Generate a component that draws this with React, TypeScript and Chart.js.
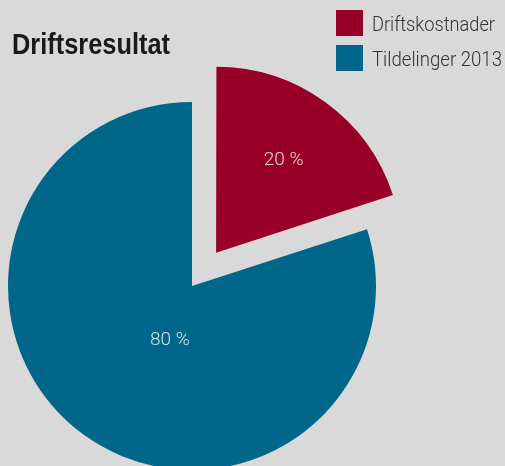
import { useEffect, useRef } from 'react';
import { Chart, registerables } from 'chart.js';

Chart.register(...registerables);

const categories = ['Driftskostnader', 'Tildelinger 2013'];
const values = [20, 80];
const valueSuffix = ' %';
const sliceColors = ['#990029', '#00668a'];
const sliceOffsets = [164, 0];
const chartTitle = 'Driftsresultat';

// label placement: fraction of radius from slice apex, and angular shift (deg)
const labelRadius = [0.625, 0.32];
const labelShift = [0, -14];
const legendTextWidths = [123, 130];

const overlayPlugin = {
  id: 'overlay',
  afterDatasetsDraw(chart: any) {
    const ctx = chart.ctx as CanvasRenderingContext2D;
    const meta = chart.getDatasetMeta(0);
    ctx.save();
    ctx.font = '300 19px Roboto, "Open Sans", sans-serif';
    ctx.fillStyle = 'rgba(255,255,255,0.82)';
    ctx.textAlign = 'center';
    ctx.textBaseline = 'middle';
    meta.data.forEach((arc: any, i: number) => {
      const { x, y, startAngle, endAngle, outerRadius } = arc.getProps(['x', 'y', 'startAngle', 'endAngle', 'outerRadius'], true);
      const mid = (startAngle + endAngle) / 2;
      const off = (arc.options.offset || 0) / 4;
      const ax = x + Math.cos(mid) * off;
      const ay = y + Math.sin(mid) * off;
      const a = mid + (labelShift[i] * Math.PI) / 180;
      const r = outerRadius * labelRadius[i];
      ctx.fillText(values[i] + valueSuffix, ax + Math.cos(a) * r, ay + Math.sin(a) * r, 45);
    });
    ctx.restore();
  },
  afterDraw(chart: any) {
    const ctx = chart.ctx as CanvasRenderingContext2D;
    ctx.save();
    // title
    ctx.font = 'bold 30px "Liberation Sans", Arial, sans-serif';
    ctx.fillStyle = '#1a1a1a';
    ctx.textAlign = 'left';
    ctx.textBaseline = 'alphabetic';
    ctx.fillText(chartTitle, 12, 54, 158);
    // legend
    ctx.font = '300 21px Roboto, "Open Sans", sans-serif';
    categories.forEach((label, i) => {
      const top = 10 + i * 35;
      ctx.fillStyle = sliceColors[i];
      ctx.fillRect(336, top, 27, 26);
      ctx.fillStyle = '#333333';
      ctx.fillText(label, 372, top + 21, legendTextWidths[i]);
    });
    ctx.restore();
  },
};

export default function App() {
  const ref = useRef<HTMLCanvasElement | null>(null);
  useEffect(() => {
    if (!ref.current) return;
    const chart = new Chart(ref.current, {
      type: 'pie',
      data: {
        labels: categories,
        datasets: [
          {
            data: values,
            backgroundColor: sliceColors,
            borderWidth: 0,
            offset: sliceOffsets,
            radius: 184,
            clip: false,
          } as any,
        ],
      },
      options: {
        responsive: false,
        animation: false,
        rotation: 0,
        layout: { padding: { left: 0, right: 121, top: 106, bottom: 0 } },
        plugins: {
          legend: { display: false },
          title: { display: false },
          tooltip: { enabled: false },
        },
      },
      plugins: [overlayPlugin],
    });
    return () => chart.destroy();
  }, []);
  return (
    <div style={{ position: 'fixed', left: 0, top: 0, width: 505, height: 466, background: '#d9d9d9', overflow: 'hidden' }}>
      <canvas ref={ref} width={505} height={466} style={{ display: 'block' }} />
    </div>
  );
}
